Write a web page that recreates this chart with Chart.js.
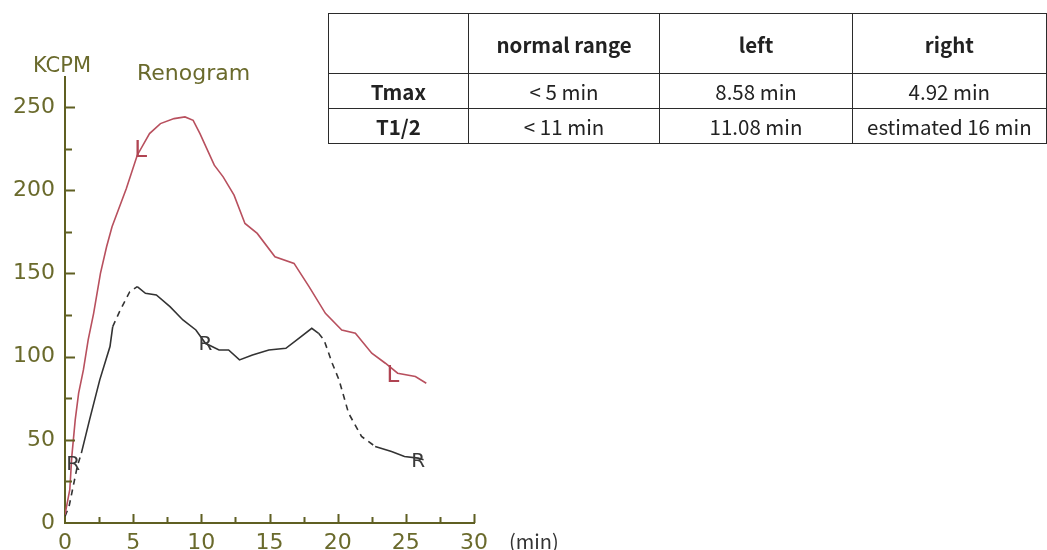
<!DOCTYPE html>
<html>
<head>
<meta charset="utf-8">
<script src="https://cdn.jsdelivr.net/npm/chart.js@4.4.1/dist/chart.umd.min.js"></script>
<style>
  html, body { margin: 0; padding: 0; background: #fff; overflow: hidden; }
  #wrap { position: relative; width: 1047px; height: 550px; }
  #renogram { position: absolute; left: 0; top: 0; }
  table.stats {
    position: absolute; left: 328px; top: 13px;
    border-collapse: collapse; table-layout: fixed;
    font-family: "Noto Sans CJK JP", "Noto Sans", sans-serif;
    font-size: 20.5px; color: #222;
  }
  table.stats td, table.stats th {
    border: 1.6px solid #2b2b2b; text-align: center; padding: 0; white-space: nowrap;
  }
  table.stats th { font-weight: bold; height: 59px; }
  table.stats td { height: 34px; }
  table.stats td.rowhead { font-weight: bold; }
  #unit {
    position: absolute; left: 509px; top: 526px;
    font-family: "Noto Sans CJK JP", sans-serif; font-size: 20px; color: #333;
  }
</style>
</head>
<body>
<div id="wrap">
  <canvas id="renogram" width="1047" height="550"></canvas>
  <table class="stats">
    <colgroup><col style="width:142px"><col style="width:193px"><col style="width:195px"><col style="width:195px"></colgroup>
    <tr><th></th><th>normal range</th><th>left</th><th>right</th></tr>
    <tr><td class="rowhead">Tmax</td><td>&lt; 5 min</td><td>8.58 min</td><td>4.92 min</td></tr>
    <tr><td class="rowhead">T1/2</td><td>&lt; 11 min</td><td>11.08 min</td><td>estimated 16 min</td></tr>
  </table>
  <div id="unit">(min)</div>
</div>
<script>
// left kidney curve (L), minutes / kcpm
var leftTimes = [0, 0.35, 0.5, 0.75, 1.0, 1.35, 1.7, 2.1, 2.6, 3.05, 3.45, 4.5, 5.3, 6.2, 7.0, 8.0, 8.8, 9.4, 9.9, 10.4, 10.95, 11.6, 12.4, 13.2, 14.1, 15.4, 16.8, 17.9, 19.1, 20.3, 21.3, 22.5, 23.5, 24.4, 25.7, 26.5];
var leftValues = [5, 20, 40, 62, 78, 92, 110, 126, 150, 166, 178, 201, 221, 234, 240, 243, 244, 242, 234, 225, 215, 208, 197, 180, 174, 160, 156, 142, 126, 116, 114, 102, 96, 90, 88, 84];

// right kidney curve (R)
var rightTimes = [0, 0.3, 0.6, 0.9, 1.2, 1.8, 2.55, 3.3, 3.5, 4.0, 4.75, 5.3, 5.9, 6.7, 7.7, 8.65, 9.6, 10.3, 11.3, 12.0, 12.8, 13.75, 14.95, 16.2, 17.15, 18.1, 18.6, 19.0, 19.6, 20.1, 20.8, 21.75, 22.75, 23.95, 24.9, 25.9, 26.3];
var rightValues = [4, 10, 22, 34, 42, 62, 86, 106, 118, 127, 139, 142, 138, 137, 130, 122, 116, 108, 104, 104, 98, 101, 104, 105, 111, 117, 114, 110, 96, 86, 66, 52, 46, 43, 40, 39, 38];

// stretches of the R trace that are drawn broken
var rightDashed = [[0, 1.0], [3.5, 4.8], [18.5, 22.2]];

// curve letters [minute, kcpm]
var markL = [[5.3, 220], [23.8, 85]];
var markR = [[0.6, 35], [10.3, 107], [25.9, 37]];

var xTicks = [0, 5, 10, 15, 20, 25, 30];
var yTicks = [0, 50, 100, 150, 200, 250];

var olive = '#5f5f22';
var oliveText = '#6a6a2c';

function toPoints(ts, vs) {
  return ts.map(function (t, i) { return { x: t, y: vs[i] }; });
}

function isDashed(t) {
  for (var i = 0; i < rightDashed.length; i++) {
    if (t >= rightDashed[i][0] && t < rightDashed[i][1]) return true;
  }
  return false;
}

var extras = {
  id: 'extras',
  afterDraw: function (chart) {
    var ctx = chart.ctx;
    var xs = chart.scales.x, ys = chart.scales.y;
    var x0 = xs.getPixelForValue(0), y0 = ys.getPixelForValue(0);
    ctx.save();
    ctx.strokeStyle = olive;
    ctx.lineWidth = 2;
    ctx.beginPath();
    for (var v = 25; v <= 250; v += 25) {
      var py = Math.round(ys.getPixelForValue(v)) + 0.5;
      ctx.moveTo(x0, py);
      ctx.lineTo(x0 + (v % 50 === 0 ? 10 : 7), py);
    }
    for (var t = 2.5; t <= 30; t += 2.5) {
      var px = Math.round(xs.getPixelForValue(t)) + 0.5;
      ctx.moveTo(px, y0);
      ctx.lineTo(px, y0 - (t % 5 === 0 ? 9 : 6));
    }
    ctx.stroke();

    ctx.fillStyle = oliveText;
    ctx.textBaseline = 'alphabetic';
    ctx.textAlign = 'left';
    ctx.font = '21px "DejaVu Sans"';
    ctx.fillText('KCPM', 33, 72);
    ctx.font = '22px "DejaVu Sans"';
    ctx.fillText('Renogram', 137, 80);

    ctx.font = '23px "DejaVu Sans"';
    ctx.fillStyle = '#b04452';
    markL.forEach(function (m) {
      ctx.fillText('L', xs.getPixelForValue(m[0]) - 3, ys.getPixelForValue(m[1]));
    });
    ctx.font = '20px "DejaVu Sans"';
    ctx.fillStyle = '#3a3a3a';
    ctx.textAlign = 'center';
    ctx.textBaseline = 'middle';
    markR.forEach(function (m) {
      ctx.fillText('R', xs.getPixelForValue(m[0]), ys.getPixelForValue(m[1]));
    });
    ctx.restore();
  }
};

new Chart(document.getElementById('renogram'), {
  type: 'line',
  data: {
    datasets: [
      {
        label: 'L',
        data: toPoints(leftTimes, leftValues),
        borderColor: '#b8505e',
        borderWidth: 1.6,
        pointRadius: 0,
        tension: 0,
      },
      {
        label: 'R',
        data: toPoints(rightTimes, rightValues),
        borderColor: '#333333',
        borderWidth: 1.6,
        pointRadius: 0,
        tension: 0,
        segment: {
          borderDash: function (c) { return isDashed(c.p0.parsed.x) ? [6, 5] : undefined; }
        }
      }
    ]
  },
  options: {
    responsive: false,
    devicePixelRatio: 1,
    animation: false,
    layout: { padding: { top: 77, right: 573, left: 0, bottom: 0 } },
    plugins: {
      legend: { display: false },
      tooltip: { enabled: false },
    },
    scales: {
      x: {
        type: 'linear',
        min: 0,
        max: 30,
        afterFit: function (s) { s.height = 27; },
        afterBuildTicks: function (s) { s.ticks = xTicks.map(function (v) { return { value: v }; }); },
        grid: { display: false, drawTicks: false },
        border: { display: true, color: olive, width: 2 },
        ticks: {
          padding: 7,
          maxRotation: 0,
          color: oliveText,
          font: { family: 'DejaVu Sans', size: 22 },
        }
      },
      y: {
        min: 0,
        max: 268,
        afterFit: function (s) { s.width = 65; },
        afterBuildTicks: function (s) { s.ticks = yTicks.map(function (v) { return { value: v }; }); },
        grid: { display: false, drawTicks: false },
        border: { display: true, color: olive, width: 2 },
        ticks: {
          padding: 10,
          color: oliveText,
          font: { family: 'DejaVu Sans', size: 22 },
        }
      }
    }
  },
  plugins: [extras]
});
</script>
</body>
</html>
